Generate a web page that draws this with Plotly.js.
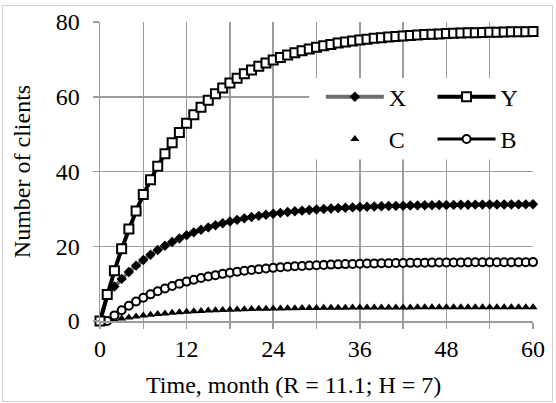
<!DOCTYPE html>
<html>
<head>
<meta charset="utf-8">
<script src="https://cdn.plot.ly/plotly-3.0.1.min.js"></script>
<style>
html,body{margin:0;padding:0;background:#fff;}
#wrap{position:relative;width:556px;height:403px;}
#chart{width:556px;height:403px;}
#frame{position:absolute;left:2px;top:5px;width:551px;height:397px;border:1px solid #d0d0d0;box-sizing:border-box;pointer-events:none;}
</style>
</head>
<body>
<div id="wrap"><div id="chart"></div><div id="frame"></div></div>
<script>
// Time axis (months)
const months = [0,1,2,3,4,5,6,7,8,9,10,11,12,13,14,15,16,17,18,19,20,21,22,23,24,25,26,27,28,29,30,
  31,32,33,34,35,36,37,38,39,40,41,42,43,44,45,46,47,48,49,50,51,52,53,54,55,56,57,58,59,60];

// Series values
const seriesX = [0,6.98,9.23,11.27,13.13,14.81,16.33,17.72,18.98,20.12,21.15,22.09,22.94,23.72,24.42,25.05,
  25.63,26.16,26.63,27.07,27.46,27.81,28.14,28.43,28.69,28.93,29.15,29.35,29.53,29.70,29.84,
  29.98,30.10,30.21,30.31,30.40,30.49,30.56,30.63,30.69,30.75,30.80,30.85,30.89,30.93,30.96,
  30.99,31.02,31.05,31.07,31.09,31.11,31.13,31.14,31.16,31.17,31.18,31.19,31.20,31.21,31.22];

const seriesY = [0,7.06,13.47,19.31,24.61,29.44,33.82,37.81,41.43,44.72,47.72,50.44,52.92,55.17,57.22,59.08,
  60.77,62.31,63.71,64.98,66.13,67.18,68.14,69.01,69.80,70.51,71.17,71.76,72.30,72.79,73.24,
  73.64,74.01,74.35,74.65,74.93,75.18,75.41,75.62,75.81,75.98,76.13,76.28,76.41,76.52,76.63,
  76.73,76.82,76.90,76.97,77.04,77.10,77.15,77.20,77.25,77.29,77.32,77.36,77.39,77.42,77.44];

const seriesC = [0,0,0.35,0.67,0.96,1.22,1.46,1.67,1.86,2.04,2.20,2.34,2.47,2.59,2.69,2.79,
  2.87,2.95,3.02,3.09,3.15,3.20,3.25,3.29,3.33,3.36,3.40,3.43,3.45,3.47,3.50,
  3.52,3.53,3.55,3.56,3.58,3.59,3.60,3.61,3.62,3.63,3.63,3.64,3.64,3.65,3.65,
  3.66,3.66,3.67,3.67,3.67,3.68,3.68,3.68,3.68,3.68,3.68,3.69,3.69,3.69,3.69];

const seriesB = [0,0,1.50,2.86,4.10,5.21,6.22,7.13,7.95,8.70,9.38,9.99,10.54,11.04,11.49,11.90,
  12.27,12.61,12.91,13.19,13.44,13.66,13.87,14.05,14.22,14.37,14.50,14.63,14.74,14.84,14.93,
  15.01,15.09,15.16,15.22,15.27,15.32,15.37,15.41,15.45,15.48,15.51,15.54,15.56,15.59,15.61,
  15.62,15.64,15.66,15.67,15.68,15.69,15.70,15.71,15.72,15.73,15.74,15.74,15.75,15.75,15.76];

const xTickVals = [0,6,12,18,24,30,36,42,48,54,60];
const xTickText = ['0','','12','','24','','36','','48','','60'];
const yTickVals = [0,20,40,60,80];

const names = ['X','Y','C','B'];
const xTitle = 'Time, month (R = 11.1; H = 7)';
const yTitle = 'Number of clients';

const grid = '#9c9c9c';
const FONT = 'Liberation Serif, serif';

const traces = [
  {x: months, y: seriesC, name: names[2], mode: 'markers', type: 'scatter', cliponaxis: false,
   legend: 'legend', legendgroup: 'c', legendrank: 2,
   marker: {symbol: 'triangle-up', size: 8, color: '#000'}},
  {x: months, y: seriesB, name: names[3], mode: 'lines+markers', type: 'scatter', cliponaxis: false,
   legend: 'legend2', legendgroup: 'b', legendrank: 2,
   line: {color: '#000', width: 3},
   marker: {symbol: 'circle', size: 8, color: '#fff', line: {color: '#000', width: 2}}},
  {x: months, y: seriesX, name: names[0], mode: 'lines+markers', type: 'scatter', cliponaxis: false,
   legend: 'legend', legendgroup: 'x', legendrank: 1,
   line: {color: '#6e6e6e', width: 4},
   marker: {symbol: 'diamond', size: 8, color: '#000'}},
  {x: months, y: seriesY, name: names[1], mode: 'lines+markers', type: 'scatter', cliponaxis: false,
   legend: 'legend2', legendgroup: 'y', legendrank: 1,
   line: {color: '#000', width: 4},
   marker: {symbol: 'square', size: 9, color: '#fff', line: {color: '#000', width: 2}}}
];

const legendCommon = {
  orientation: 'v', bgcolor: 'rgba(0,0,0,0)', borderwidth: 0,
  font: {family: FONT, size: 24, color: '#000'},
  itemwidth: 58, tracegroupgap: 8, traceorder: 'grouped',
  xanchor: 'left', yanchor: 'top', y: 0.824
};

const layout = {
  width: 556, height: 403,
  margin: {l: 100, r: 23, t: 22, b: 82},
  paper_bgcolor: '#fff', plot_bgcolor: '#fff',
  font: {family: FONT, color: '#000', size: 24},
  showlegend: true,
  legend: Object.assign({}, legendCommon, {x: 0.51}),
  legend2: Object.assign({}, legendCommon, {x: 0.768}),
  xaxis: {
    range: [0, 60], tickmode: 'array', tickvals: xTickVals, ticktext: xTickText,
    ticks: 'outside', ticklen: 6, tickwidth: 1.5, tickcolor: grid,
    showgrid: true, gridcolor: grid, gridwidth: 1.5,
    showline: true, linecolor: grid, linewidth: 1.5, zeroline: false,
    tickfont: {family: FONT, size: 24, color: '#000'},
    fixedrange: true
  },
  yaxis: {
    range: [0, 80], tickmode: 'array', tickvals: yTickVals,
    ticks: 'outside', ticklen: 6, tickwidth: 1.5, tickcolor: grid,
    showgrid: true, gridcolor: grid, gridwidth: 1.5,
    showline: true, linecolor: grid, linewidth: 1.5, zeroline: false,
    tickfont: {family: FONT, size: 24, color: '#000'},
    ticklabelstandoff: 8,
    title: {text: yTitle, font: {family: FONT, size: 24, color: '#000'}, standoff: 18},
    fixedrange: true
  },
  annotations: [{
    text: xTitle, xref: 'paper', yref: 'paper', x: 0.448, y: -0.213,
    xanchor: 'center', yanchor: 'middle', showarrow: false,
    font: {family: FONT, size: 24, color: '#000'}
  }],
  shapes: [{
    type: 'rect', xref: 'x domain', yref: 'y domain', layer: 'above',
    x0: 0.483, x1: 1.02, y0: 0.54, y1: 0.813,
    fillcolor: '#fff', line: {width: 0}
  }]
};

Plotly.newPlot('chart', traces, layout, {staticPlot: true, displayModeBar: false});
</script>
</body>
</html>
